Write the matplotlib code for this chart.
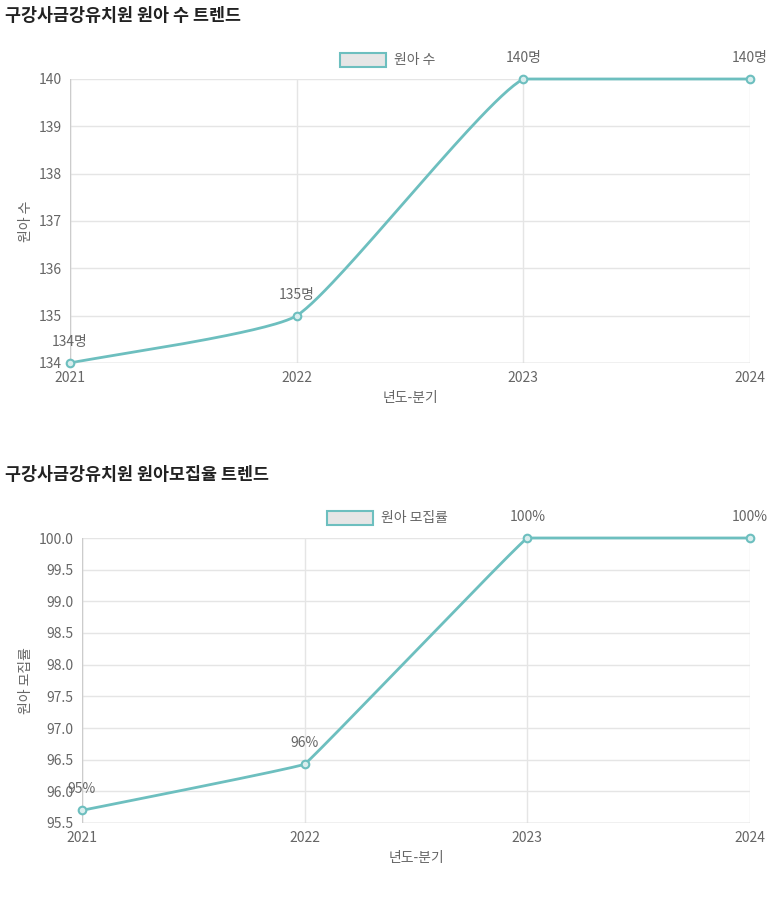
import numpy as np
import matplotlib
matplotlib.use('Agg')
import matplotlib.pyplot as plt
from matplotlib.patches import Rectangle

plt.rcParams['font.family'] = ['Noto Sans CJK KR', 'Noto Sans CJK JP', 'Noto Sans CJK SC', 'DejaVu Sans']

years = ["2021", "2022", "2023", "2024"]
students = [134, 135, 140, 140]
student_labels = ["134명", "135명", "140명", "140명"]
rates = [95.7, 96.43, 100, 100]
rate_labels = ["95%", "96%", "100%", "100%"]

TEAL = "#6dbfbf"
GRAY = "#666666"
GRID = "#e5e5e5"
W, H = 773, 908


def spline(px, py, t):
    # Chart.js style bezier control points, computed in pixel space
    n = len(px)
    xs, ys = [], []
    cps = []
    for i in range(n):
        f = (px[max(i - 1, 0)], py[max(i - 1, 0)])
        m = (px[i], py[i])
        a = (px[min(i + 1, n - 1)], py[min(i + 1, n - 1)])
        d01 = np.hypot(m[0] - f[0], m[1] - f[1])
        d12 = np.hypot(a[0] - m[0], a[1] - m[1])
        s = d01 + d12
        s01 = d01 / s if s else 0
        s12 = d12 / s if s else 0
        cps.append(((m[0] - t * s01 * (a[0] - f[0]), m[1] - t * s01 * (a[1] - f[1])),
                    (m[0] + t * s12 * (a[0] - f[0]), m[1] + t * s12 * (a[1] - f[1]))))
    u = np.linspace(0, 1, 60)
    for i in range(n - 1):
        p0 = np.array([px[i], py[i]])
        p1 = np.array(cps[i][1])
        p2 = np.array(cps[i + 1][0])
        p3 = np.array([px[i + 1], py[i + 1]])
        b = (np.outer((1 - u) ** 3, p0) + np.outer(3 * (1 - u) ** 2 * u, p1)
             + np.outer(3 * (1 - u) * u ** 2, p2) + np.outer(u ** 3, p3))
        xs.extend(b[:, 0])
        ys.extend(b[:, 1])
    return np.array(xs), np.array(ys)


def draw(rect, values, labels, ylim, yticks, yfmt, ylabel, title, title_y, legend, tension):
    l, t, r, b = rect
    ax = fig.add_axes([l / W, 1 - b / H, (r - l) / W, (b - t) / H])
    x = np.arange(len(years))
    ax.set_xlim(0, 3)
    ax.set_ylim(*ylim)
    # curve in pixel space then back to data
    pw, ph = r - l, b - t
    px = x / 3 * pw
    py = (np.array(values) - ylim[0]) / (ylim[1] - ylim[0]) * ph
    cx, cy = spline(px, py, tension)
    cy = np.clip(cy, 0, ph)
    ax.plot(cx / pw * 3, cy / ph * (ylim[1] - ylim[0]) + ylim[0], color=TEAL, lw=2, clip_on=False)
    ax.scatter(x, values, s=30, facecolor="#d9eeee", edgecolor=TEAL, lw=1.5, zorder=5, clip_on=False)
    for xi, v, s in zip(x, values, labels):
        ax.annotate(s, (xi, v), xytext=(0, 10), textcoords="offset points",
                    ha="center", va="bottom", fontsize=10, color=GRAY, annotation_clip=False)
    ax.set_xticks(x)
    ax.set_xticklabels(years)
    ax.set_yticks(yticks)
    ax.set_yticklabels([yfmt.format(v) for v in yticks])
    ax.grid(True, color=GRID, lw=1)
    ax.tick_params(colors=GRAY, labelsize=10, length=0, pad=6)
    for s in ax.spines.values():
        s.set_visible(False)
    ax.axhline(ylim[0], color="#cccccc", lw=1)
    ax.axvline(0, color="#cccccc", lw=1)
    ax.set_xlabel("년도-분기", color=GRAY, fontsize=10)
    ax.set_ylabel(ylabel, color=GRAY, fontsize=10)
    fig.text(5 / W, 1 - title_y / H, title, fontsize=12.5, color="#222222",
             ha="left", va="center", fontweight="bold")
    lx, ly, text = legend
    fig.patches.append(Rectangle((lx / W, 1 - (ly + 7) / H), 46 / W, 14 / H,
                                 transform=fig.transFigure, facecolor="#e6e6e6",
                                 edgecolor=TEAL, lw=1.5))
    fig.text((lx + 54) / W, 1 - ly / H, text, fontsize=10, color=GRAY, ha="left", va="center")


fig = plt.figure(figsize=(W / 100, H / 100), dpi=100)
draw((70, 79, 750, 363), students, student_labels, (134, 140), np.arange(134, 141),
     "{:.0f}", "원아 수", "구강사금강유치원 원아 수 트렌드", 16, (340, 60, "원아 수"), 0.15)
draw((82, 538, 750, 823), rates, rate_labels, (95.5, 100), np.arange(95.5, 100.01, 0.5),
     "{:.1f}", "원아 모집률", "구강사금강유치원 원아모집율 트렌드", 475, (327, 518, "원아 모집률"), 0.03)
fig.savefig("out.png", dpi=100)
